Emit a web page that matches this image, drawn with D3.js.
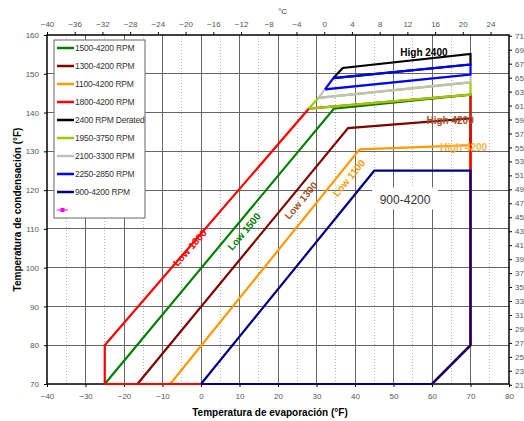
<!DOCTYPE html>
<html>
<head>
<meta charset="utf-8">
<script src="https://cdn.jsdelivr.net/npm/d3@7"></script>
<style>
body { margin: 0; background: #fff; }
svg { display: block; font-family: "Liberation Sans", Arial, sans-serif; }
</style>
</head>
<body>
<div id="chart"></div>
<script>
// axis ticks (°F on bottom/left, °C on top/right)
const xTicksF = d3.range(-40, 81, 10)
const yTicksF = d3.range(70, 161, 10)
const xTicksC = d3.range(-40, 25, 4)
const yTicksC = d3.range(21, 72, 2)

const seriesNames = [
	'1500-4200 RPM', '1300-4200 RPM', '1100-4200 RPM', '1800-4200 RPM', '2400 RPM Derated',
	'1950-3750 RPM', '2100-3300 RPM', '2250-2850 RPM', '900-4200 RPM'
]
const seriesColors = ['#008000', '#800000', '#ff9900', '#ff0000', '#000000', '#99cc00', '#c0c0c0', '#0000ff', '#000080']

// envelope outlines: [evaporating °F, condensing °F]
const env1500 = [[-25, 70], [34.5, 141], [70, 144.6], [70, 80], [60, 70], [-25, 70]]
const env1300 = [[-16.5, 70], [38.2, 136], [70, 138.5], [70, 80], [60, 70], [-16.5, 70]]
const env1100 = [[-8, 70], [41.2, 130.5], [70, 131.6], [70, 80], [60, 70], [-8, 70]]
const env1800 = [[-25, 70], [-25, 80], [28, 141], [70, 144.6], [70, 80], [60, 70], [-25, 70]]
const env2400 = [[34.4, 148.9], [36.8, 151.5], [70, 155.1], [70, 152.4], [34.4, 148.9]]
const env1950 = [[28, 141], [30.5, 143.8], [70, 147.8], [70, 144.6], [28, 141]]
const env2100 = [[30.5, 143.8], [32.2, 146], [70, 149.8], [70, 147.8], [30.5, 143.8]]
const env2250 = [[32.2, 146], [34.4, 148.9], [70, 152.4], [70, 149.8], [32.2, 146]]
const env900 = [[0, 70], [45, 125], [70, 125], [70, 80], [60, 70], [0, 70]]
const envelopes = [env1500, env1300, env1100, env1800, env2400, env1950, env2100, env2250, env900]

// in-chart labels: text, evap °F, cond °F
const labelText = ['Low 1800', 'Low 1500', 'Low 1300', 'Low 1100', 'High 2400', 'High 4200', 'High 4200', '900-4200']
const labelX = [-2.9, 11.2, 26, 38.4, 57.9, 64.7, 68.2, 53]
const labelY = [105.1, 109.3, 117.3, 123.1, 155.6, 137.9, 131.1, 117.6]

const width = 524
const height = 421
const margin = { top: 35, right: 15, bottom: 37, left: 47 }

const x = d3.scaleLinear().domain([-40, 80]).range([margin.left, width - margin.right])
const y = d3.scaleLinear().domain([70, 160]).range([height - margin.bottom, margin.top])
const xC = d3.scaleLinear().domain([-40, (80 - 32) / 1.8]).range(x.range())
const yC = d3.scaleLinear().domain([(70 - 32) / 1.8, (160 - 32) / 1.8]).range(y.range())

const svg = d3.select('#chart').append('svg').attr('width', width).attr('height', height)

// minor dotted verticals
svg.append('g')
	.attr('shape-rendering', 'crispEdges')
	.selectAll('line')
	.data(d3.range(-35, 80, 10))
	.join('line')
	.attr('x1', (d) => x(d)).attr('x2', (d) => x(d))
	.attr('y1', y(160)).attr('y2', y(70))
	.attr('stroke', '#b5b5b5')
	.attr('stroke-dasharray', '1,2')

// major grid
svg.append('g')
	.attr('stroke', '#666')
	.attr('shape-rendering', 'crispEdges')
	.selectAll('line')
	.data(xTicksF.slice(1, -1))
	.join('line')
	.attr('x1', (d) => x(d)).attr('x2', (d) => x(d))
	.attr('y1', y(160)).attr('y2', y(70))

svg.append('g')
	.attr('stroke', '#666')
	.attr('shape-rendering', 'crispEdges')
	.selectAll('line')
	.data(yTicksF.slice(1, -1))
	.join('line')
	.attr('x1', x(-40)).attr('x2', x(80))
	.attr('y1', (d) => y(d)).attr('y2', (d) => y(d))

// axes
const tickFont = (g) => g.call((s) => s.select('.domain').remove())
	.call((s) => s.selectAll('text').attr('fill', '#555').style('font-size', '8px').style('font-family', '"Liberation Sans", Arial, sans-serif'))
	.call((s) => s.selectAll('line').attr('stroke', '#000'))

svg.append('g')
	.attr('transform', `translate(0,${y(70)})`)
	.call(d3.axisBottom(x).tickValues(xTicksF).tickSize(3).tickPadding(6))
	.call(tickFont)

svg.append('g')
	.attr('transform', `translate(${x(-40)},0)`)
	.call(d3.axisLeft(y).tickValues(yTicksF).tickSize(3).tickPadding(5))
	.call(tickFont)

svg.append('g')
	.attr('transform', `translate(0,${y(160)})`)
	.call(d3.axisTop(xC).tickValues(xTicksC).tickSize(3).tickPadding(5))
	.call(tickFont)

svg.append('g')
	.attr('transform', `translate(${x(80)},0)`)
	.call(d3.axisRight(yC).tickValues(yTicksC).tickSize(3).tickPadding(3))
	.call(tickFont)

svg.append('rect')
	.attr('x', x(-40)).attr('y', y(160))
	.attr('width', x(80) - x(-40)).attr('height', y(70) - y(160))
	.attr('fill', 'none').attr('stroke', '#000').attr('stroke-width', 1.5)

// envelopes
const line = d3.line().x((d) => x(d[0])).y((d) => y(d[1]))

svg.append('g')
	.selectAll('path')
	.data(envelopes)
	.join('path')
	.attr('d', (d) => line(d))
	.attr('fill', 'none')
	.attr('stroke', (d, i) => seriesColors[i])
	.attr('stroke-width', 2.2)
	.attr('stroke-linejoin', 'miter')

// labels in plot
const labelColors = ['#ff0000', '#008000', '#a0522d', '#ff9900', '#000', '#a0522d', '#ffb347', '#333']
const labelAngles = [-48.5, -50, -50, -50.5, 0, 0, 0, 0]

svg.append('rect')
	.attr('x', x(53) - 33).attr('y', y(117.6) - 12)
	.attr('width', 66).attr('height', 22)
	.attr('fill', '#fff')

svg.append('g')
	.selectAll('text')
	.data(labelText)
	.join('text')
	.attr('transform', (d, i) => `translate(${x(labelX[i])},${y(labelY[i])}) rotate(${labelAngles[i]})`)
	.attr('text-anchor', 'middle')
	.attr('dy', '0.35em')
	.attr('fill', (d, i) => labelColors[i])
	.attr('font-weight', (d, i) => (i === 7 ? 'normal' : 'bold'))
	.style('font-size', (d, i) => (i === 7 ? '12px' : '10px'))
	.text((d) => d)

// legend
const legend = svg.append('g')
legend.append('rect')
	.attr('x', 54).attr('y', 40)
	.attr('width', 91).attr('height', 178)
	.attr('fill', '#fff').attr('stroke', '#666')

const item = legend.selectAll('g')
	.data(seriesNames)
	.join('g')
	.attr('transform', (d, i) => `translate(57,${48 + i * 18})`)

item.append('line')
	.attr('x1', 0).attr('x2', 17)
	.attr('stroke', (d, i) => seriesColors[i])
	.attr('stroke-width', 2.5)

item.append('text')
	.attr('x', 18)
	.attr('dy', '0.35em')
	.attr('fill', '#333')
	.style('font-size', '8.5px')
	.style('letter-spacing', '-0.2px')
	.text((d) => d)

const marker = legend.append('g').attr('transform', `translate(57,${48 + 9 * 18})`)
marker.append('line').attr('x1', 0).attr('x2', 11).attr('stroke', '#ff00ff').attr('stroke-width', 1)
marker.append('rect').attr('x', 3.5).attr('y', -2).attr('width', 4).attr('height', 4).attr('fill', '#ff00ff')

// titles
svg.append('text')
	.attr('x', x(20) - 8)
	.attr('y', 416)
	.attr('text-anchor', 'middle')
	.attr('font-weight', 'bold')
	.style('font-size', '10px')
	.text('Temperatura de evaporación (°F)')

svg.append('text')
	.attr('transform', `translate(21,${y(115)}) rotate(-90)`)
	.attr('text-anchor', 'middle')
	.attr('font-weight', 'bold')
	.style('font-size', '10px')
	.text('Temperatura de condensación (°F)')

svg.append('text')
	.attr('x', xC(-6))
	.attr('y', 14)
	.attr('text-anchor', 'middle')
	.attr('fill', '#333')
	.style('font-size', '8px')
	.text('°C')
</script>
</body>
</html>
